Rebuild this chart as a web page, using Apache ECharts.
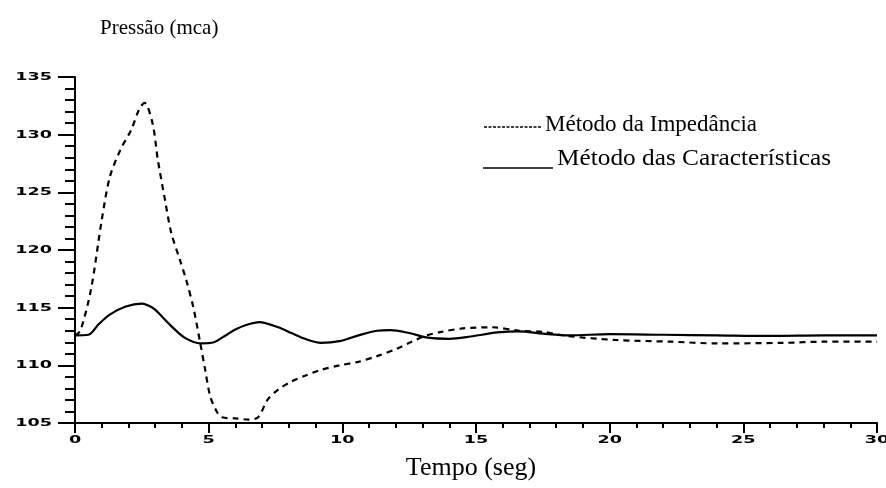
<!DOCTYPE html>
<html>
<head>
<meta charset="utf-8">
<script src="https://cdn.jsdelivr.net/npm/echarts@6/dist/echarts.min.js"></script>
<style>
  html, body { margin: 0; padding: 0; background: #fff; }
  #chart { width: 886px; height: 488px; }
</style>
</head>
<body>
<div id="chart"></div>
<script>
// Pressure transient: impedance method vs method of characteristics
const tempoImpedancia = [0, 0.2, 0.6, 1.0, 1.3, 1.7, 2.1, 2.4, 2.6, 2.9, 3.1, 3.37, 3.6, 3.93, 4.16, 4.42, 4.68, 4.87, 5.06, 5.3, 5.5, 6.0, 6.5, 6.85, 7.2, 7.6, 8.1, 8.6, 9.2, 9.9, 10.6, 11.3, 12.0, 12.55, 13.1, 13.7, 14.5, 15.6, 16.6, 17.5, 18.4, 20.2, 22.3, 24.0, 26.5, 28.0, 30.0];
const pressaoImpedancia = [112.6, 113.0, 116.6, 122.6, 126.3, 128.7, 130.4, 132.2, 132.75, 131.0, 127.8, 124.3, 121.5, 119.1, 117.4, 115.1, 112.0, 109.6, 107.3, 106.0, 105.5, 105.4, 105.3, 105.5, 107.0, 107.9, 108.6, 109.1, 109.6, 110.0, 110.3, 110.8, 111.4, 112.0, 112.55, 112.9, 113.2, 113.3, 113.0, 112.9, 112.55, 112.2, 112.05, 111.9, 111.95, 112.05, 112.05];

const tempoCaracteristicas = [0, 0.5, 0.9, 1.3, 1.9, 2.5, 2.9, 3.1, 3.6, 4.1, 4.7, 5.2, 5.5, 6.0, 6.4, 6.9, 7.6, 8.1, 8.6, 9.2, 9.9, 10.6, 11.3, 11.8, 12.5, 13.2, 14.0, 14.8, 15.8, 16.6, 17.5, 18.5, 20.0, 22.0, 24.0, 26.0, 28.0, 30.0];
const pressaoCaracteristicas = [112.6, 112.65, 113.6, 114.4, 115.1, 115.35, 115.0, 114.6, 113.4, 112.4, 111.9, 112.0, 112.4, 113.1, 113.5, 113.75, 113.3, 112.8, 112.3, 111.95, 112.1, 112.6, 113.0, 113.05, 112.8, 112.4, 112.3, 112.5, 112.85, 112.95, 112.75, 112.6, 112.7, 112.65, 112.6, 112.55, 112.6, 112.6];

// tick labels of both axes
const ticksTempo = [0, 5, 10, 15, 20, 25, 30];
const ticksPressao = [105, 110, 115, 120, 125, 130, 135];

const nomeImpedancia = 'Método da Impedância';
const nomeCaracteristicas = 'Método das Características';
const tituloY = 'Pressão (mca)';
const tituloX = 'Tempo (seg)';

const pares = (xs, ys) => xs.map((x, i) => [x, ys[i]]);

const serif = '"Liberation Serif", "Times New Roman", serif';
const tickFont = 'bold 11px "DejaVu Sans", sans-serif';

const chart = echarts.init(document.getElementById('chart'), null, { renderer: 'canvas' });

chart.setOption({
  animation: false,
  backgroundColor: '#fff',
  grid: { left: 75, right: 9, top: 77, bottom: 65, containLabel: false },
  xAxis: {
    type: 'value', min: 0, max: 30, interval: 5,
    axisLine: { show: true, onZero: false, lineStyle: { color: '#000', width: 2 } },
    axisTick: { show: true, inside: false, length: 10, lineStyle: { color: '#000', width: 2 } },
    minorTick: { show: true, splitNumber: 5, length: 5, lineStyle: { color: '#000', width: 2 } },
    splitLine: { show: false },
    axisLabel: { show: false }
  },
  yAxis: {
    type: 'value', min: 105, max: 135, interval: 5,
    axisLine: { show: true, onZero: false, lineStyle: { color: '#000', width: 2 } },
    axisTick: { show: true, inside: false, length: 17, lineStyle: { color: '#000', width: 2 } },
    minorTick: { show: true, splitNumber: 5, length: 10, lineStyle: { color: '#000', width: 2 } },
    splitLine: { show: false },
    axisLabel: { show: false }
  },
  series: [
    {
      name: nomeImpedancia, type: 'line', showSymbol: false, smooth: 0.3,
      data: pares(tempoImpedancia, pressaoImpedancia),
      lineStyle: { color: '#000', width: 2.2, type: [6, 5] }
    },
    {
      name: nomeCaracteristicas, type: 'line', showSymbol: false, smooth: 0.3,
      data: pares(tempoCaracteristicas, pressaoCaracteristicas),
      lineStyle: { color: '#000', width: 2.2, type: 'solid' }
    }
  ]
});

// Wide, low tick numerals placed through the axis scales
const rotulos = [];
ticksTempo.forEach((t) => {
  const p = chart.convertToPixel({ gridIndex: 0 }, [t, 105]);
  rotulos.push({
    type: 'text', x: p[0], y: p[1] + 17, scaleX: 1.6, z: 10,
    style: { text: String(t), font: tickFont, fill: '#000', align: 'center', verticalAlign: 'middle' }
  });
});
ticksPressao.forEach((v) => {
  const p = chart.convertToPixel({ gridIndex: 0 }, [0, v]);
  rotulos.push({
    type: 'text', x: p[0] - 23, y: p[1], scaleX: 1.6, z: 10,
    style: { text: String(v), font: tickFont, fill: '#000', align: 'right', verticalAlign: 'middle' }
  });
});

chart.setOption({
  graphic: rotulos.concat([
    { type: 'text', x: 100, y: 28, style: { text: tituloY, font: '21px ' + serif, fill: '#000', verticalAlign: 'middle' } },
    { type: 'text', x: 471, y: 468, style: { text: tituloX, font: '26px ' + serif, fill: '#000', align: 'center', verticalAlign: 'middle' } },
    // legend entries
    { type: 'line', shape: { x1: 484, y1: 127, x2: 541, y2: 127 }, style: { stroke: '#000', lineWidth: 1.5, lineDash: [3, 1.5] } },
    { type: 'text', x: 545, y: 125, style: { text: nomeImpedancia, font: '23px ' + serif, fill: '#000', verticalAlign: 'middle' } },
    { type: 'line', shape: { x1: 483, y1: 168, x2: 553, y2: 168 }, style: { stroke: '#000', lineWidth: 1.5 } },
    { type: 'text', x: 557, y: 159, scaleX: 1.1, style: { text: nomeCaracteristicas, font: '23px ' + serif, fill: '#000', verticalAlign: 'middle' } }
  ])
});
</script>
</body>
</html>
